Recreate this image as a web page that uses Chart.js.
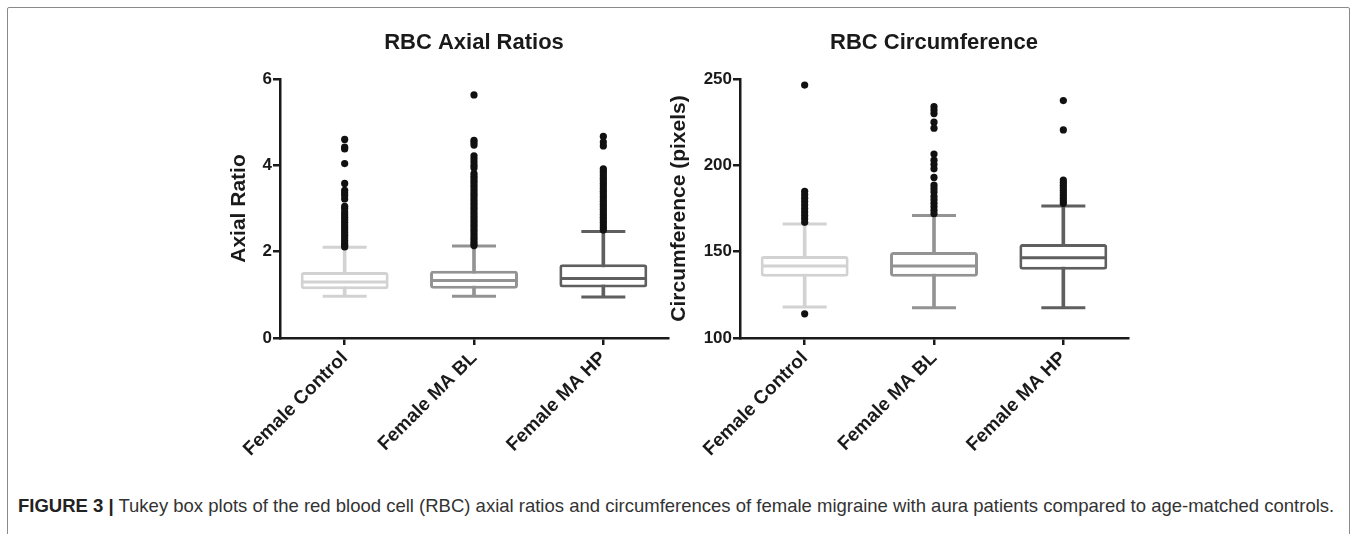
<!DOCTYPE html>
<html>
<head>
<meta charset="utf-8">
<script src="https://cdn.jsdelivr.net/npm/chart.js@4.4.1/dist/chart.umd.min.js"></script>
<style>
  body { margin: 0; background: #fff; width: 1357px; height: 534px; overflow: hidden; position: relative; font-family: "Liberation Sans", Arial, sans-serif; }
  #frame { position: absolute; left: 7px; top: 7px; width: 1341px; height: 560px; border: 1.5px solid #8a8a8a; border-radius: 2px; }
  #axialWrap { position: absolute; left: 220px; top: 10px; }
  #circWrap { position: absolute; left: 660px; top: 10px; }
  #caption { position: absolute; left: 18px; top: 495px; font-size: 18.5px; color: #333; white-space: nowrap; }
  #caption b { color: #222; }
</style>
</head>
<body>
<div id="frame"></div>
<div id="axialWrap"><canvas id="axialChart" width="460" height="470"></canvas></div>
<div id="circWrap"><canvas id="circChart" width="480" height="470"></canvas></div>
<div id="caption"><b>FIGURE 3 |</b> Tukey box plots of the red blood cell (RBC) axial ratios and circumferences of female migraine with aura patients compared to age-matched controls.</div>
<script>
const categories = ['Female Control', 'Female MA BL', 'Female MA HP'];
const boxColors = ['#d2d2d2', '#939393', '#5f5f5f'];

// axial ratio (left panel)
const axialLower = [0.97, 0.97, 0.95];
const axialQ1 = [1.13, 1.14, 1.17];
const axialMedian = [1.30, 1.33, 1.38];
const axialQ3 = [1.53, 1.56, 1.71];
const axialUpper = [2.10, 2.13, 2.47];
const axialOutliers = [
  [4.60, 4.42, 4.38, 4.04, 3.58, 3.42, 3.36, 3.30, 3.22, 3.05, 3.00, 2.92, 2.86, 2.80, 2.74, 2.68, 2.62, 2.56, 2.50, 2.44, 2.38, 2.32, 2.26, 2.20, 2.15, 2.11],
  [5.63, 4.58, 4.53, 4.47, 4.22, 4.15, 4.08, 4.00, 3.94, 3.81, 3.75, 3.69, 3.63, 3.57, 3.51, 3.45, 3.39, 3.33, 3.27, 3.21, 3.15, 3.09, 3.03, 2.97, 2.91, 2.85, 2.79, 2.73, 2.67, 2.61, 2.55, 2.49, 2.43, 2.37, 2.31, 2.25, 2.19, 2.14],
  [4.67, 4.54, 4.45, 3.92, 3.87, 3.82, 3.76, 3.70, 3.64, 3.58, 3.52, 3.46, 3.40, 3.34, 3.28, 3.22, 3.16, 3.10, 3.04, 2.98, 2.92, 2.86, 2.80, 2.74, 2.68, 2.62, 2.56, 2.50]
];
const axialTicks = [0, 2, 4, 6];

// circumference (right panel)
const circLower = [118, 117.5, 117.5];
const circQ1 = [135.5, 135.5, 139.5];
const circMedian = [141.7, 141.7, 146.5];
const circQ3 = [147.5, 149.8, 154.5];
const circUpper = [166, 171, 176.5];
const circOutliers = [
  [246.5, 185, 183, 181, 179, 177, 175, 173, 171, 169, 167, 114],
  [234, 232, 230, 225, 221.5, 206.5, 203, 200.5, 198, 193, 188.5, 186.5, 184.5, 182, 180, 178, 176, 174, 172],
  [237.5, 220.5, 191.5, 190, 188.5, 187, 185.5, 184, 182.5, 181, 179.5, 178]
];
const circTicks = [100, 150, 200, 250];

const ink = '#1a1a1a';
const fontFamily = '"Liberation Sans", Arial, sans-serif';

function boxDatasets(lower, q1, median, q3, upper, outliers) {
  const outlierPts = [];
  outliers.forEach((list, i) => list.forEach(v => outlierPts.push({x: categories[i], y: v})));
  const capPts = [], capColors = [];
  categories.forEach((c, i) => {
    capPts.push({x: c, y: upper[i]}, {x: c, y: lower[i]});
    capColors.push(boxColors[i], boxColors[i]);
  });
  return [
    { type: 'scatter', data: outlierPts, pointRadius: 3.6, pointBackgroundColor: '#111', pointBorderWidth: 0 },
    { type: 'scatter', data: categories.map((c, i) => ({x: c, y: median[i]})),
      pointStyle: 'line', pointRadius: 43, pointBorderColor: boxColors, pointBorderWidth: 3 },
    { type: 'scatter', data: capPts, pointStyle: 'line', pointRadius: 22,
      pointBorderColor: capColors, pointBorderWidth: 3 },
    { type: 'bar', data: categories.map((c, i) => [q1[i], q3[i]]), grouped: false,
      backgroundColor: '#fff', borderColor: boxColors, borderWidth: 3, borderSkipped: false,
      borderRadius: 3, barPercentage: 0.68, categoryPercentage: 1 },
    { type: 'bar', data: categories.map((c, i) => [lower[i], upper[i]]), grouped: false,
      backgroundColor: boxColors, borderWidth: 0, barThickness: 3 }
  ];
}

function makeChart(id, title, yTitle, yMin, yMax, yStep, yWidth, datasets) {
  return new Chart(document.getElementById(id), {
    type: 'bar',
    data: { labels: categories, datasets: datasets },
    options: {
      responsive: false,
      animation: false,
      events: [],
      layout: { autoPadding: false, padding: { right: 12, bottom: 0, left: 0, top: 0 } },
      plugins: {
        legend: { display: false },
        tooltip: { enabled: false },
        title: {
          display: true, text: title, fullSize: false, color: ink,
          font: { family: fontFamily, size: 22, weight: 'bold' },
          padding: { top: 20, bottom: 22.6 }
        }
      },
      scales: {
        x: {
          type: 'category',
          offset: true,
          afterFit: s => { s.height = 142; },
          border: { display: true, color: ink, width: 2.5 },
          grid: { display: true, offset: false, drawOnChartArea: false, drawTicks: true, tickLength: 7, color: ink, lineWidth: 2.5 },
          ticks: { color: ink, minRotation: 45, maxRotation: 45, padding: 2,
            font: { family: fontFamily, size: 19, weight: 'bold' } }
        },
        y: {
          min: yMin, max: yMax,
          afterFit: s => { s.width = yWidth; },
          border: { display: true, color: ink, width: 2.5 },
          grid: { display: true, drawOnChartArea: false, drawTicks: true, tickLength: 7, color: ink, lineWidth: 2.5 },
          ticks: { stepSize: yStep, color: ink, padding: 1,
            font: { family: fontFamily, size: 17, weight: 'bold' } },
          title: { display: true, text: yTitle, color: ink, padding: { top: 7, bottom: 0 },
            font: { family: fontFamily, size: 21, weight: 'bold' } }
        }
      }
    }
  });
}

makeChart('axialChart', 'RBC Axial Ratios', 'Axial Ratio', axialTicks[0], axialTicks[axialTicks.length - 1], 2, 60,
  boxDatasets(axialLower, axialQ1, axialMedian, axialQ3, axialUpper, axialOutliers));
makeChart('circChart', 'RBC Circumference', 'Circumference (pixels)', circTicks[0], circTicks[circTicks.length - 1], 50, 80,
  boxDatasets(circLower, circQ1, circMedian, circQ3, circUpper, circOutliers));
</script>
</body>
</html>
